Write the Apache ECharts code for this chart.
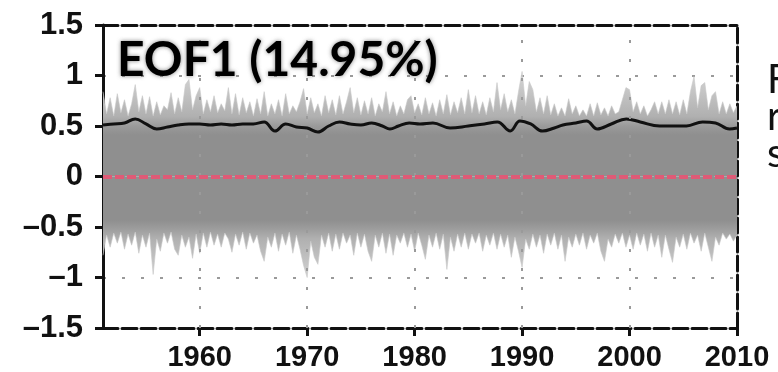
<!DOCTYPE html>
<html>
<head>
<meta charset="utf-8">
<script src="https://cdn.jsdelivr.net/npm/echarts@6/dist/echarts.min.js"></script>
<style>
html,body{margin:0;padding:0;background:#fff;}
#chart{width:778px;height:372px;}
</style>
</head>
<body>
<div id="chart"></div>
<script>
// Time axis: 3 samples per year starting 1951.0
const startYear = 1951;
const stepsPerYear = 3;

// Upper envelope of the grey spaghetti (light spikes)
const upperLight = [
0.84,0.62,0.78, 0.60,0.82,0.63, 0.76,0.60,0.72, 0.91,0.64,0.80, 0.62,0.79,0.60,
0.74,0.61,0.70, 0.66,0.83,0.62, 0.78,0.64,0.91, 0.96,0.66,0.80, 0.88,0.62,0.76,
0.64,0.80,0.63, 0.72,0.65,0.88, 0.62,0.82,0.61, 0.78,0.63,0.74, 0.60,0.77,0.62,
0.84,0.60,0.72, 0.62,0.76,0.60, 0.82,0.62,0.70, 0.64,0.74,0.87, 0.62,0.78,0.63,
0.72,0.60,0.80, 0.63,0.76,0.61, 0.80,0.62,0.74, 0.88,0.63,0.78, 0.61,0.75,0.62,
0.78,0.60,0.72, 0.64,0.84,0.62, 0.74,0.60,0.70, 0.62,0.76,0.80, 0.63,0.72,0.61,
0.78,0.62,0.73, 0.60,0.76,0.62, 0.81,0.61,0.74, 0.63,0.78,0.62, 0.86,0.63,0.80,
0.62,0.74,0.61, 0.78,0.64,0.93, 0.66,0.82,0.64, 0.76,0.62,0.84, 1.04,0.70,0.94,
0.86,0.64,0.78, 0.62,0.80,0.61, 0.72,0.60,0.68, 0.60,0.77,0.62, 0.70,0.60,0.66,
0.60,0.72,0.60, 0.73,0.61,0.68, 0.60,0.70,0.62, 0.64,0.76,0.88, 0.86,0.64,0.74,
0.62,0.70,0.60, 0.66,0.74,0.62, 0.74,0.62,0.76, 0.62,0.74,0.61, 0.76,0.62,0.84,
0.99,0.68,0.90, 0.93,0.66,0.80, 0.84,0.62,0.74, 0.62,0.72,0.63, 0.70
];

// Lower envelope of the grey spaghetti (light spikes)
const lowerLight = [
-0.78,-0.58,-0.70, -0.56,-0.66,-0.55, -0.72,-0.57,-0.68, -0.55,-0.76,-0.58, -0.70,-0.56,-0.97,
-0.62,-0.74,-0.56, -0.66,-0.55,-0.72, -0.78,-0.58,-0.70, -0.60,-0.81,-0.57, -0.76,-0.56,-0.70,
-0.55,-0.68,-0.57, -0.70,-0.56,-0.62, -0.75,-0.57,-0.68, -0.55,-0.72,-0.56, -0.66,-0.58,-0.74,
-0.84,-0.60,-0.70, -0.56,-0.74,-0.57, -0.68,-0.55,-0.76, -0.58,-0.72,-0.88, -1.00,-0.64,-0.80,
-0.87,-0.58,-0.70, -0.56,-0.74,-0.57, -0.72,-0.56,-0.66, -0.58,-0.78,-0.56, -0.70,-0.57,-0.74,
-0.84,-0.58,-0.70, -0.56,-0.76,-0.57, -0.78,-0.58,-0.66, -0.56,-0.70,-0.57, -0.74,-0.56,-0.68,
-0.82,-0.58,-0.70, -0.56,-0.72,-0.57, -0.92,-0.60,-0.74, -0.57,-0.70,-0.56, -0.72,-0.57,-0.66,
-0.56,-0.74,-0.58, -0.68,-0.56,-0.72, -0.57,-0.70,-0.58, -0.80,-0.60,-0.74, -0.90,-0.62,-0.72,
-0.57,-0.70,-0.58, -0.76,-0.57,-0.68, -0.56,-0.72,-0.58, -0.84,-0.60,-0.70, -0.57,-0.68,-0.56,
-0.72,-0.58,-0.66, -0.56,-0.74,-0.84, -0.62,-0.70,-0.57, -0.66,-0.56,-0.70, -0.58,-0.72,-0.56,
-0.68,-0.57,-0.74, -0.56,-0.70,-0.58, -0.80,-0.58,-0.72, -0.85,-0.60,-0.70, -0.57,-0.72,-0.56,
-0.66,-0.58,-0.74, -0.56,-0.70,-0.84, -0.60,-0.68,-0.56, -0.62,-0.57,-0.64, -0.58
];

// Black mean curve
const meanYears = [1951,1952,1953,1954,1955,1956,1957,1958,1959,1960,1961,1962,1963,1964,1965,1966,1967,1968,1969,1970,
1971,1972,1973,1974,1975,1976,1977,1977.7,1978.5,1979.5,1980.5,1981.7,1983.3,1985,1986.5,1987.7,1988.9,1989.8,1990.8,1991.9,
1993,1993.8,1995,1996,1997,1998.3,1999.7,2001,2002.8,2004,2005.3,2006.8,2008,2009.3,2010];
const meanValues = [0.51,0.52,0.53,0.57,0.52,0.47,0.49,0.51,0.52,0.52,0.51,0.52,0.51,0.52,0.52,0.54,0.45,0.52,0.49,0.48,
0.44,0.50,0.54,0.52,0.51,0.53,0.50,0.47,0.50,0.53,0.52,0.53,0.48,0.50,0.52,0.54,0.45,0.55,0.52,0.45,
0.48,0.51,0.53,0.55,0.47,0.52,0.57,0.54,0.50,0.50,0.50,0.54,0.53,0.47,0.48];

const xTickLabels = [1960, 1970, 1980, 1990, 2000, 2010];
const xGridLines = [1960, 1970, 1980, 1990, 2000];
const titleText = 'EOF1 (14.95%)';
const sideText = ['F', 'r', 's'];

const xMin = 1951, xMax = 2010;

const upperData = upperLight.map((v, i) => [startYear + i / stepsPerYear, v]);
const lowerData = lowerLight.map((v, i) => [startYear + i / stepsPerYear, v]);
const meanData = meanYears.map((y, i) => [y, meanValues[i]]);

const chart = echarts.init(document.getElementById('chart'), null, {renderer: 'canvas'});

const grad = new echarts.graphic.LinearGradient(0, 25, 0, 330, [
  {offset: 0.00, color: '#e4e4e4'},
  {offset: 0.1667, color: '#d2d2d2'},
  {offset: 0.30, color: '#b0b0b0'},
  {offset: 0.333, color: '#999999'},
  {offset: 0.36, color: '#8f8f8f'},
  {offset: 0.64, color: '#8f8f8f'},
  {offset: 0.667, color: '#9c9c9c'},
  {offset: 0.70, color: '#b0b0b0'},
  {offset: 0.833, color: '#d2d2d2'},
  {offset: 1.00, color: '#e4e4e4'}
], true);

const baseFont = {fontFamily: 'Liberation Sans', color: '#111', fontWeight: 'bold'};
const dashFrame = {color: '#111', width: 3, type: [15, 4]};

const option = {
  animation: false,
  backgroundColor: '#fff',
  grid: {left: 103, right: 41, top: 25, bottom: 42, containLabel: false},
  xAxis: [{
    type: 'value', min: xMin, max: xMax, position: 'bottom',
    axisLine: {show: true, onZero: false, lineStyle: dashFrame},
    axisTick: {show: true, customValues: xTickLabels, length: 8, lineStyle: {color: '#111', width: 3}},
    axisLabel: {show: true, customValues: xTickLabels, margin: 15, ...baseFont, fontSize: 29,
      formatter: v => String(v)},
    splitLine: {show: false}
  }, {
    type: 'value', min: xMin, max: xMax, position: 'top',
    axisLine: {show: true, onZero: false, lineStyle: dashFrame},
    axisTick: {show: false}, axisLabel: {show: false}, splitLine: {show: false}
  }],
  yAxis: [{
    type: 'value', min: -1.5, max: 1.5, interval: 0.5, position: 'left',
    axisLine: {show: true, onZero: false, lineStyle: {color: '#111', width: 3}},
    axisTick: {show: true, length: 8, lineStyle: {color: '#111', width: 3}},
    axisLabel: {show: true, margin: 20, ...baseFont, fontSize: 31,
      formatter: v => v < 0 ? '\u2013' + String(Math.abs(v)) : String(v)},
    splitLine: {show: true, lineStyle: {color: '#9a9a9a', width: 2, type: [3, 16]}}
  }, {
    type: 'value', min: -1.5, max: 1.5, interval: 0.5, position: 'right',
    axisLine: {show: true, onZero: false, lineStyle: dashFrame},
    axisTick: {show: false}, axisLabel: {show: false}, splitLine: {show: false}
  }],
  series: [{
    type: 'line', name: 'upper', data: upperData, showSymbol: false, symbol: 'none',
    lineStyle: {width: 0.6, color: '#c8c8c8'},
    areaStyle: {color: grad, opacity: 1},
    silent: true, z: 2,
    markLine: {
      silent: true, symbol: 'none', label: {show: false},
      lineStyle: {color: '#9a9a9a', width: 2, type: [3, 16]},
      data: xGridLines.map(x => ({xAxis: x}))
    }
  }, {
    type: 'line', name: 'lower', data: lowerData, showSymbol: false, symbol: 'none',
    lineStyle: {width: 0.6, color: '#c8c8c8'},
    areaStyle: {color: grad, opacity: 1},
    silent: true, z: 2
  }, {
    type: 'line', name: 'mean', data: meanData, showSymbol: false, symbol: 'none',
    smooth: 0.4,
    lineStyle: {width: 3, color: '#111'},
    silent: true, z: 4,
    markLine: {
      silent: true, symbol: 'none', label: {show: false},
      lineStyle: {color: '#df5a76', width: 4, type: [9, 3]},
      data: [{yAxis: 0}]
    }
  }],
  graphic: [{
    type: 'text', left: 117, top: 37, z: 10,
    style: {text: titleText, fontFamily: 'Lato', fontWeight: 'bold', fontSize: 48, fill: '#000',
      textShadowColor: 'rgba(90,90,90,0.75)', textShadowBlur: 4}
  }].concat(sideText.map((t, i) => ({
    type: 'text', x: 767, y: 80 + i * 37, z: 10,
    style: {text: t, fontFamily: 'Lato', fontSize: 40, fill: '#111', verticalAlign: 'middle', align: 'left'}
  })))
};

chart.setOption(option);
</script>
</body>
</html>
